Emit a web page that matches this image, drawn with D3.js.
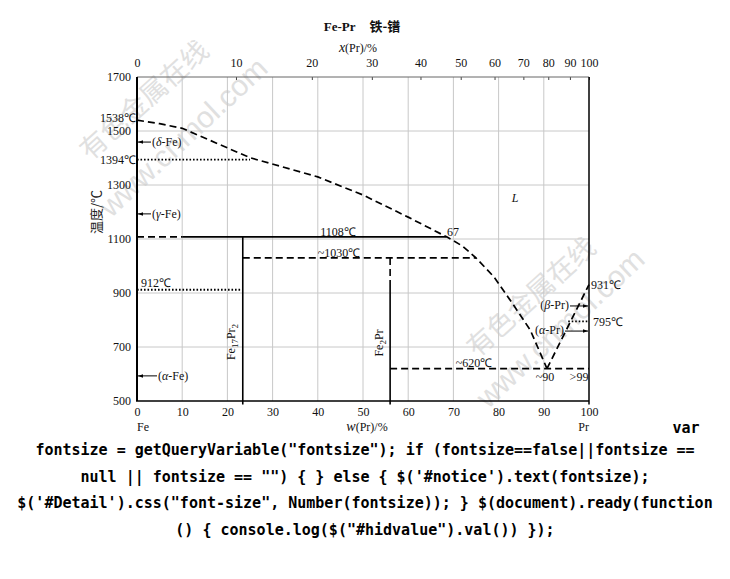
<!DOCTYPE html>
<html><head><meta charset="utf-8">
<script src="https://cdn.jsdelivr.net/npm/d3@7"></script>
<style>
html,body{margin:0;padding:0;background:#fff;}
svg{display:block;}
</style></head>
<body>
<svg id="chart" width="730" height="579"></svg>
<script>
// ---------- data ----------
const tempTicks = [500, 700, 900, 1100, 1300, 1500, 1700];
const gridTemps = [700, 900, 1100, 1300, 1500];
const wtTicks = [0, 10, 20, 30, 40, 50, 60, 70, 80, 90, 100];
const atTicks = [0, 10, 20, 30, 40, 50, 60, 70, 80, 90, 100];
const molarMass = {Fe: 55.845, Pr: 140.91};
// liquidus (w% Pr, T °C)
const liquidusFe = [[0,1540],[5,1527],[10,1510],[18,1452],[25,1401],[40,1330],[50,1263],[60,1181],[68.5,1108],[72,1074],[75,1030],[79,959],[83,863],[87,763],[90.7,620]];
const liquidusPr = [[90.7,620],[100,931]];
// horizontal isotherms: [w1, w2, T, style]
const isotherms = [
  [0, 10, 1108, "dash"], [10, 68.5, 1108, "solid"],
  [23.4, 75, 1030, "dash"],
  [56, 100, 620, "dash"],
  [0, 23.4, 912, "dot"],
  [0, 25, 1394, "dot"],
  [95.4, 100, 795, "dot"]
];
// vertical phase lines: [w, T1, T2, style]
const verticals = [
  [23.4, 1108, 487, "solid"],
  [56, 1030, 922, "dash"],
  [56, 922, 487, "solid"]
];
// phase arrows: [label, T]
const leftArrows = [["δ-Fe", 1459], ["γ-Fe", 1193], ["α-Fe", 593]];
const rightArrows = [["β-Pr", 852], ["α-Pr", 759]];
const bottomText = [
  'fontsize = getQueryVariable("fontsize"); if (fontsize==false||fontsize ==',
  'null || fontsize == "") { } else { $(\'#notice\').text(fontsize);',
  '$(\'#Detail\').css("font-size", Number(fontsize)); } $(document).ready(function',
  '() { console.log($("#hidvalue").val()) });'
];

// ---------- scales ----------
const svg = d3.select("#chart");
const x = d3.scaleLinear().domain([0, 100]).range([137, 589]);
const y = d3.scaleLinear().domain([500, 1700]).range([401, 77]);
const at2wt = a => 100 * a * molarMass.Pr / (a * molarMass.Pr + (100 - a) * molarMass.Fe);
const serif = "Liberation Serif, Times New Roman, serif";
const cjk = "Noto Sans CJK SC, sans-serif";

// ---------- watermark ----------
const wm = svg.append("g").attr("fill", "#e0e0e0");
[[144, 100, 183, 137], [531, 297, 560, 328]].forEach(([cx1, cy1, cx2, cy2]) => {
  wm.append("text").attr("transform", `translate(${cx1},${cy1}) rotate(-42)`)
    .attr("text-anchor", "middle").attr("dy", "0.35em")
    .style("font-family", cjk).style("font-size", "27px").text("有色金属在线");
  wm.append("text").attr("transform", `translate(${cx2},${cy2}) rotate(-43)`)
    .attr("text-anchor", "middle").attr("dy", "0.35em")
    .style("font-family", "Liberation Sans, Arial, sans-serif").style("font-size", "30px").text("www.cnmol.com");
});

// ---------- grid ----------
const grid = svg.append("g").attr("stroke", "#c8c8c8").attr("stroke-width", 1);
grid.selectAll("line.v").data(wtTicks.slice(1, -1)).join("line")
  .attr("x1", d => x(d)).attr("x2", d => x(d)).attr("y1", y(1700)).attr("y2", y(500));
grid.selectAll("line.h").data(gridTemps).join("line")
  .attr("x1", x(0)).attr("x2", x(100)).attr("y1", d => y(d)).attr("y2", d => y(d));

// ---------- axes ----------
const leftAx = svg.append("g").attr("transform", `translate(${x(0)},0)`)
  .call(d3.axisLeft(y).tickValues(tempTicks).tickSize(0).tickPadding(6).tickFormat(d3.format("d")));
const bottomAx = svg.append("g").attr("transform", `translate(0,${y(500)})`)
  .call(d3.axisBottom(x).tickValues(wtTicks).tickSize(0).tickPadding(6));
const topAx = svg.append("g").attr("transform", `translate(0,${y(1700)})`)
  .call(d3.axisTop(x).tickValues(atTicks.map(at2wt)).tickSizeInner(-3).tickSizeOuter(0).tickPadding(10)
    .tickFormat((d, i) => atTicks[i]));
[leftAx, bottomAx, topAx].forEach(g => {
  g.select(".domain").remove();
  g.selectAll("text").style("font-family", serif).style("font-size", "12px").attr("fill", "#111");
});
topAx.selectAll(".tick line").attr("stroke", "#444");

// frame
const frame = svg.append("g").attr("fill", "none");
frame.append("line").attr("x1", x(0)).attr("x2", x(100)).attr("y1", y(1700)).attr("y2", y(1700)).attr("stroke", "#666").attr("stroke-width", 1);
frame.append("line").attr("x1", x(0)).attr("x2", x(0)).attr("y1", y(1700)).attr("y2", y(500)).attr("stroke", "#000").attr("stroke-width", 2);
frame.append("line").attr("x1", x(100)).attr("x2", x(100)).attr("y1", y(1700)).attr("y2", y(487)).attr("stroke", "#000").attr("stroke-width", 1.5);
frame.append("line").attr("x1", x(0) - 1).attr("x2", x(100)).attr("y1", y(500)).attr("y2", y(500)).attr("stroke", "#000").attr("stroke-width", 1.6);

// ---------- phase lines ----------
const styleOf = s => s === "dash" ? "7,4" : s === "dot" ? "1.6,1.9" : null;
const lines = svg.append("g").attr("stroke", "#000").attr("fill", "none");
lines.selectAll("line.iso").data(isotherms).join("line")
  .attr("x1", d => x(d[0])).attr("x2", d => x(d[1])).attr("y1", d => y(d[2])).attr("y2", d => y(d[2]))
  .attr("stroke-width", d => d[3] === "dot" ? 1.8 : 1.6)
  .attr("stroke-dasharray", d => styleOf(d[3]));
lines.selectAll("line.vert").data(verticals).join("line")
  .attr("x1", d => x(d[0])).attr("x2", d => x(d[0])).attr("y1", d => y(d[1])).attr("y2", d => y(d[2]))
  .attr("stroke-width", 1.6)
  .attr("stroke-dasharray", d => styleOf(d[3]));
const liq = d3.line().x(d => x(d[0])).y(d => y(d[1]));
lines.append("path").attr("d", liq(liquidusFe)).attr("stroke-width", 1.7).attr("stroke-dasharray", "7,4");
lines.append("path").attr("d", liq(liquidusPr)).attr("stroke-width", 1.7).attr("stroke-dasharray", "7,4");

// ---------- arrows ----------
const defs = svg.append("defs");
defs.append("marker").attr("id", "arr").attr("viewBox", "0 0 10 10").attr("refX", 10).attr("refY", 5)
  .attr("markerWidth", 5).attr("markerHeight", 5).attr("orient", "auto-start-reverse")
  .append("path").attr("d", "M0,1.5 L10,5 L0,8.5 Z").attr("fill", "#000");
const ann = svg.append("g").style("font-family", serif).style("font-size", "12px").attr("fill", "#111");
const phaseText = (sel, lab) => {
  sel.append("tspan").text("(");
  sel.append("tspan").style("font-style", "italic").text(lab.split("-")[0]);
  sel.append("tspan").text("-" + lab.split("-")[1] + ")");
};
leftArrows.forEach(([lab, T], i) => {
  const len = i === 2 ? 20 : 14;
  svg.append("line").attr("x1", x(0) + len).attr("x2", x(0) + 1).attr("y1", y(T)).attr("y2", y(T))
    .attr("stroke", "#000").attr("stroke-width", 1).attr("marker-end", "url(#arr)");
  phaseText(ann.append("text").attr("x", x(0) + len + 1).attr("y", y(T)).attr("dy", "0.35em"), lab);
});
rightArrows.forEach(([lab, T], i) => {
  const start = i === 0 ? 570 : 565;
  svg.append("line").attr("x1", start).attr("x2", x(100) - 1).attr("y1", y(T)).attr("y2", y(T))
    .attr("stroke", "#000").attr("stroke-width", 1).attr("marker-end", "url(#arr)");
  phaseText(ann.append("text").attr("x", start - 1).attr("y", y(T) - 1).attr("dy", "0.35em").attr("text-anchor", "end"), lab);
});

// ---------- annotations ----------
const notes = [
  ["1538℃", x(0) - 1, y(1538) - 2.5, "end"],
  ["1394℃", x(0) - 1, y(1394), "end"],
  ["912℃", 141, y(912) - 7, "start"],
  ["1108℃", 338, y(1108) - 5, "middle"],
  ["67", 453, y(1108) - 5, "middle"],
  ["~1030℃", 339, y(1030) - 5, "middle"],
  ["~620℃", 474, y(620) - 6, "middle"],
  ["~90", 545, y(620) + 8, "middle"],
  [">99", 579, y(620) + 8, "middle"],
  ["931℃", 591, y(931), "start"],
  ["795℃", 593, y(795), "start"]
];
notes.forEach(([t, px, py, anc]) => ann.append("text").attr("x", px).attr("y", py).attr("dy", "0.35em").attr("text-anchor", anc).text(t));
ann.append("text").attr("x", 515).attr("y", 198).attr("dy", "0.35em").attr("text-anchor", "middle").style("font-style", "italic").text("L");

// compound labels (vertical)
const fe17 = ann.append("text").attr("transform", `translate(${x(23.4) - 8},342) rotate(-90)`).attr("text-anchor", "middle");
fe17.append("tspan").text("Fe");
fe17.append("tspan").attr("font-size", "9px").attr("dy", 3).text("17");
fe17.append("tspan").attr("dy", -3).text("Pr");
fe17.append("tspan").attr("font-size", "9px").attr("dy", 3).text("2");
const fe2 = ann.append("text").attr("transform", `translate(${x(56) - 7},343) rotate(-90)`).attr("text-anchor", "middle");
fe2.append("tspan").text("Fe");
fe2.append("tspan").attr("font-size", "9px").attr("dy", 3).text("2");
fe2.append("tspan").attr("dy", -3).text("Pr");

// axis titles
const tt = svg.append("text").attr("x", 362).attr("y", 26).attr("dy", "0.35em").attr("text-anchor", "middle")
  .style("font-size", "13px").style("font-weight", "bold").attr("fill", "#111");
tt.append("tspan").style("font-family", serif).text("Fe-Pr");
tt.append("tspan").style("font-family", cjk).attr("dx", 14).text("铁-镨");
const xt = svg.append("text").attr("x", 358).attr("y", 48).attr("dy", "0.35em").attr("text-anchor", "middle")
  .style("font-family", serif).style("font-size", "12px").attr("fill", "#111");
xt.append("tspan").style("font-style", "italic").style("font-size", "14px").text("x");
xt.append("tspan").text("(Pr)/%");
const wt = svg.append("text").attr("x", 367).attr("y", 427).attr("dy", "0.35em").attr("text-anchor", "middle")
  .style("font-family", serif).style("font-size", "12px").attr("fill", "#111");
wt.append("tspan").style("font-style", "italic").style("font-size", "14px").text("w");
wt.append("tspan").text("(Pr)/%");
svg.append("text").attr("x", x(0)).attr("y", 427).attr("dy", "0.35em").style("font-family", serif).style("font-size", "12px").attr("fill", "#111").text("Fe");
svg.append("text").attr("x", x(100)).attr("y", 427).attr("dy", "0.35em").attr("text-anchor", "end").style("font-family", serif).style("font-size", "12px").attr("fill", "#111").text("Pr");
svg.append("text").attr("transform", "translate(96,212) rotate(-90)").attr("dy", "0.35em").attr("text-anchor", "middle")
  .style("font-family", cjk).style("font-size", "13px").attr("fill", "#222").text("温度/℃");

// ---------- trailing page text ----------
const mono = "DejaVu Sans Mono, Liberation Mono, monospace";
svg.append("text").attr("x", 686).attr("y", 433).attr("text-anchor", "middle")
  .style("font-family", mono).style("font-weight", "bold").style("font-size", "15px").text("var");
svg.selectAll("text.code").data(bottomText).join("text").attr("class", "code")
  .attr("x", 365).attr("y", (d, i) => 455 + i * 26.5).attr("text-anchor", "middle")
  .style("font-family", mono).style("font-weight", "bold").style("font-size", "15px")
  .text(d => d);
</script>
</body></html>
